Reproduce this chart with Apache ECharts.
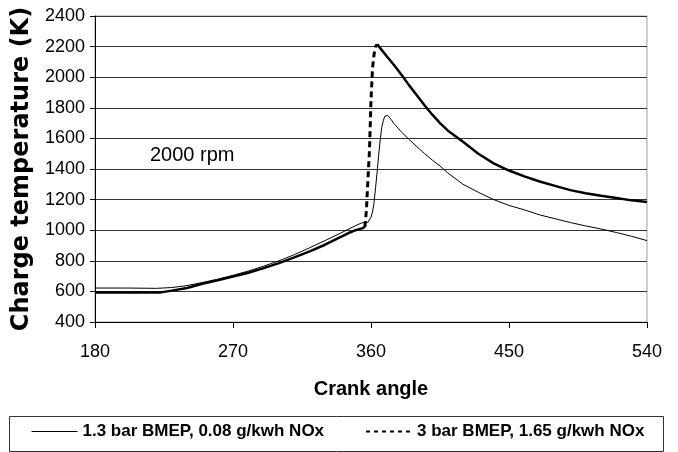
<!DOCTYPE html>
<html><head><meta charset="utf-8">
<script src="https://cdn.jsdelivr.net/npm/echarts@6/dist/echarts.min.js"></script>
<style>html,body{margin:0;padding:0;background:#fff}#c{width:678px;height:452px}</style>
</head><body><div id="c"></div>
<script>
// ---- data ----
const xTicks = [180, 270, 360, 450, 540];
const yTicks = [400, 600, 800, 1000, 1200, 1400, 1600, 1800, 2000, 2200, 2400];
const name1 = '1.3 bar BMEP, 0.08 g/kwh NOx';
const name2 = '3 bar BMEP, 1.65 g/kwh NOx';

const angle1 = [180, 200, 220, 230, 240, 250, 260, 270, 280, 290, 300, 310, 320, 330, 340, 345, 350, 354, 358, 359, 360, 361, 362, 363, 364, 365, 366, 367, 368, 369, 370, 371, 373, 375, 380, 385, 390, 395, 400, 405, 410, 420, 430, 440, 450, 460, 470, 480, 490, 500, 510, 520, 530, 540];
const temp1 = [622, 622, 620, 625, 638, 658, 680, 705, 733, 765, 800, 840, 885, 932, 980, 1005, 1030, 1048, 1052, 1060, 1085, 1120, 1180, 1280, 1380, 1490, 1590, 1670, 1715, 1745, 1755, 1750, 1725, 1697, 1640, 1592, 1545, 1500, 1458, 1420, 1375, 1300, 1248, 1200, 1162, 1133, 1100, 1075, 1050, 1028, 1008, 985, 960, 932];

const angle2 = [180, 200, 222, 230, 240, 250, 260, 270, 280, 290, 300, 310, 320, 330, 340, 345, 350, 354, 356, 357, 358, 359, 360, 361, 362, 363, 364, 366, 370, 375, 380, 385, 390, 395, 400, 405, 410, 420, 430, 440, 450, 460, 470, 480, 490, 500, 510, 520, 530, 540];
const temp2 = [592, 592, 592, 605, 622, 650, 672, 697, 722, 752, 785, 822, 862, 905, 955, 980, 1000, 1012, 1020, 1130, 1330, 1520, 1850, 2060, 2150, 2200, 2215, 2190, 2140, 2080, 2015, 1945, 1880, 1815, 1755, 1700, 1652, 1578, 1500, 1437, 1390, 1352, 1318, 1290, 1262, 1242, 1225, 1210, 1195, 1185];

// the steep rise of the second curve is drawn dashed
const jumpStart = 356, jumpEnd = 364;

const s1 = angle1.map((a, i) => [a, temp1[i]]);
const s2 = angle2.map((a, i) => [a, temp2[i]]);
const s2Jump = s2.filter(p => p[0] >= jumpStart && p[0] <= jumpEnd);
const s2Rest = [];
s2.forEach(p => { if (p[0] <= jumpStart) s2Rest.push(p); });
s2Rest.push(null);
s2.forEach(p => { if (p[0] >= jumpEnd) s2Rest.push(p); });

const chart = echarts.init(document.getElementById('c'), null, {renderer: 'canvas'});
const F = "'Liberation Sans', Arial, sans-serif";
const legendText = {fontFamily: F, fontWeight: 'bold', fontSize: 17, color: '#000'};
const hiddenSymbol = {color: 'transparent', borderColor: 'transparent', borderWidth: 0, opacity: 0};
chart.setOption({
  animation: false,
  backgroundColor: '#fff',
  grid: {left: 95, right: 31, top: 16, bottom: 130, show: true, borderColor: '#a0a0a0', borderWidth: 1, backgroundColor: 'transparent'},
  xAxis: {
    type: 'value', min: xTicks[0], max: xTicks[xTicks.length - 1], interval: 90,
    name: 'Crank angle', nameLocation: 'middle', nameGap: 57,
    nameTextStyle: {fontFamily: F, fontWeight: 'bold', fontSize: 20, color: '#000'},
    axisLine: {show: true, lineStyle: {color: '#000', width: 1}},
    axisTick: {show: true, length: 6, lineStyle: {color: '#000'}},
    axisLabel: {fontFamily: F, fontSize: 18, color: '#000', margin: 21, formatter: v => String(v)},
    splitLine: {show: false}
  },
  yAxis: {
    type: 'value', min: yTicks[0], max: yTicks[yTicks.length - 1], interval: 200,
    name: 'Charge temperature (K)', nameLocation: 'middle', nameGap: 57,
    nameTextStyle: {fontFamily: "'DejaVu Sans', sans-serif", fontWeight: 'bold', fontSize: 24, color: '#000'},
    axisLine: {show: true, lineStyle: {color: '#000', width: 1}},
    axisTick: {show: true, length: 5, lineStyle: {color: '#000'}},
    axisLabel: {fontFamily: F, fontSize: 18, color: '#000', margin: 10, formatter: v => String(v)},
    splitLine: {show: true, lineStyle: {color: '#333', width: 1}}
  },
  legend: [
    {data: [name1], left: 31, top: 423, itemWidth: 46, itemHeight: 14, itemGap: 5, padding: 0,
     itemStyle: hiddenSymbol, lineStyle: {width: 1, color: '#000'}, textStyle: legendText},
    {data: [name2], left: 365, top: 423, itemWidth: 46, itemHeight: 14, itemGap: 5, padding: 0,
     itemStyle: hiddenSymbol, lineStyle: {width: 2, color: '#000', type: [4, 4]}, textStyle: legendText}
  ],
  graphic: [
    {type: 'rect', left: 7, top: 414, shape: {width: 654, height: 35}, style: {fill: 'none', stroke: '#333', lineWidth: 1}, silent: true},
    {type: 'text', left: 150, top: 145, style: {text: '2000 rpm', font: "20px 'Liberation Sans', Arial, sans-serif", fill: '#000'}, silent: true}
  ],
  series: [
    {name: name1, type: 'line', data: s1, symbol: 'emptyCircle', showSymbol: false, lineStyle: {color: '#000', width: 1}, itemStyle: {color: '#000'}, z: 3},
    {name: name2, type: 'line', data: s2Jump, symbol: 'emptyCircle', showSymbol: false, lineStyle: {color: '#000', width: 3, type: [6, 4]}, itemStyle: {color: '#000'}, z: 4},
    {name: name2, type: 'line', data: s2Rest, symbol: 'emptyCircle', showSymbol: false, connectNulls: false, lineStyle: {color: '#000', width: 2.5}, itemStyle: {color: '#000'}, z: 4}
  ]
});
</script></body></html>
